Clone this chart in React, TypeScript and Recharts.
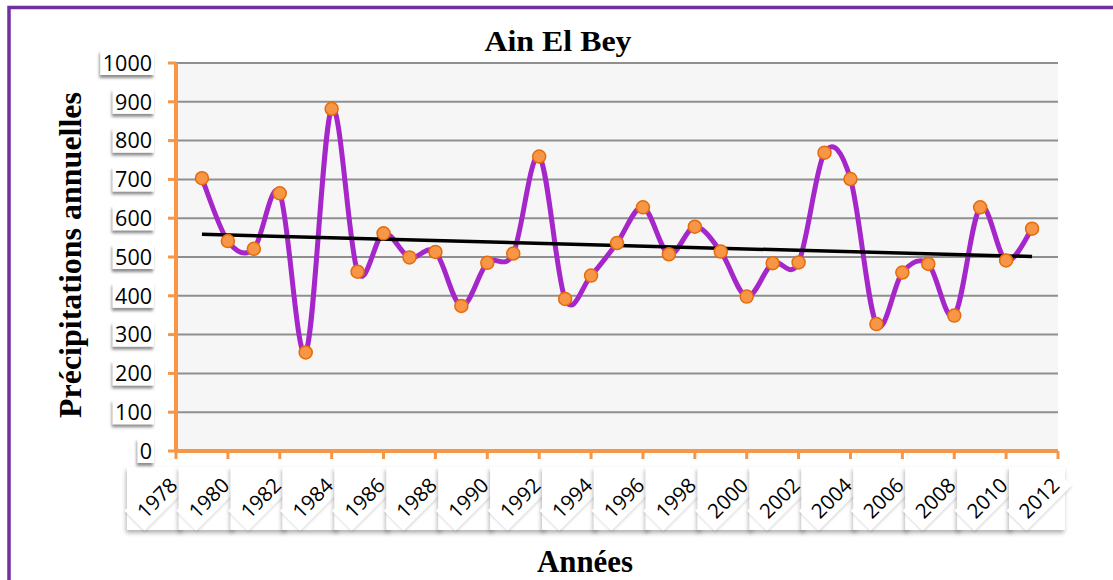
import React from 'react';
import { LineChart, Line, XAxis, YAxis, CartesianGrid } from 'recharts';

const years = [
  1979, 1980, 1981, 1982, 1983, 1984, 1985, 1986, 1987, 1988, 1989,
  1990, 1991, 1992, 1993, 1994, 1995, 1996, 1997, 1998, 1999, 2000,
  2001, 2002, 2003, 2004, 2005, 2006, 2007, 2008, 2009, 2010, 2011,
];
const precipitation = [
  703, 541, 521, 664, 254, 882, 462, 561, 499, 513, 374,
  485, 509, 759, 392, 452, 536, 628, 507, 578, 514, 398,
  484, 486, 769, 701, 327, 460, 482, 349, 628, 491, 573,
];
const xTicks = [
  1978, 1980, 1982, 1984, 1986, 1988, 1990, 1992, 1994, 1996, 1998,
  2000, 2002, 2004, 2006, 2008, 2010, 2012,
];
const yTicks = [0, 100, 200, 300, 400, 500, 600, 700, 800, 900, 1000];
const chartTitle = 'Ain El Bey';
const yTitle = 'Précipitations annuelles';
const xTitle = 'Années';

const data = years.map((year, i) => ({ year, value: precipitation[i] }));

// least-squares linear trend line
const n = years.length;
const meanX = years.reduce((a, b) => a + b, 0) / n;
const meanY = precipitation.reduce((a, b) => a + b, 0) / n;
let sxy = 0;
let sxx = 0;
years.forEach((yr, i) => {
  sxy += (yr - meanX) * (precipitation[i] - meanY);
  sxx += (yr - meanX) * (yr - meanX);
});
const slope = sxy / sxx;
const intercept = meanY - slope * meanX;
const trendData = [years[0], years[n - 1]].map((year) => ({ year, trend: intercept + slope * year }));

// Excel-like smoothed line (Catmull-Rom style Bezier)
function excelCurve(context: any) {
  let pts: number[][] = [];
  return {
    areaStart() {},
    areaEnd() {},
    lineStart() {
      pts = [];
    },
    point(x: number, y: number) {
      pts.push([+x, +y]);
    },
    lineEnd() {
      const m = pts.length;
      if (!m) return;
      context.moveTo(pts[0][0], pts[0][1]);
      for (let i = 0; i < m - 1; i++) {
        const p0 = pts[Math.max(i - 1, 0)];
        const p1 = pts[i];
        const p2 = pts[i + 1];
        const p3 = pts[Math.min(i + 2, m - 1)];
        context.bezierCurveTo(
          p1[0] + (p2[0] - p0[0]) / 6,
          p1[1] + (p2[1] - p0[1]) / 6,
          p2[0] - (p3[0] - p1[0]) / 6,
          p2[1] - (p3[1] - p1[1]) / 6,
          p2[0],
          p2[1]
        );
      }
    },
  };
}

const ORANGE = '#F79646';
const LABEL_FONT = '"Open Sans", Lato, sans-serif';
const TITLE_FONT = '"Liberation Serif", "Times New Roman", serif';

function YTick(props: any) {
  const { x, y, payload } = props;
  const label = String(payload.value);
  const w = label.length * 12.4 + 4;
  return (
    <g>
      <rect x={x - w + 2} y={y - 13} width={w} height={25} fill="#fff" filter="url(#lblShadow)" />
      <text x={x} y={y} dy="0.36em" textAnchor="end" fontFamily={LABEL_FONT} fontSize={21.5} fill="#000">
        {label}
      </text>
    </g>
  );
}

function XTick(props: any) {
  const { x, y, payload } = props;
  const top = y + 8;
  const cx = x - 19;
  const cy = y + 39;
  return (
    <g>
      <rect x={x - 49} y={top} width={56} height={63} fill="#fff" filter="url(#boxShadow)" />
      <g transform={`translate(${cx},${cy}) rotate(-45)`}>
        <rect x={-32} y={-14} width={64} height={28} fill="#fff" filter="url(#diamondShadow)" />
        <text x={0} y={0} dy="0.36em" textAnchor="middle" fontFamily={LABEL_FONT} fontSize={20.5} fill="#000">
          {payload.value}
        </text>
      </g>
    </g>
  );
}

export default function App() {
  return (
    <div
      style={{
        position: 'absolute',
        left: 0,
        top: 0,
        width: 1113,
        height: 580,
        background: '#fff',
        overflow: 'hidden',
      }}
    >
      <svg width={1113} height={580} style={{ position: 'absolute', left: 0, top: 0 }}>
        <defs>
          <filter id="lblShadow" x="-30%" y="-30%" width="160%" height="180%">
            <feDropShadow dx={-1} dy={3} stdDeviation={1.6} floodColor="#000" floodOpacity={0.45} />
          </filter>
          <filter id="boxShadow" x="-20%" y="-20%" width="140%" height="140%">
            <feDropShadow dx={-1} dy={3} stdDeviation={2} floodColor="#000" floodOpacity={0.3} />
          </filter>
          <filter id="diamondShadow" x="-20%" y="-40%" width="140%" height="180%">
            <feDropShadow dx={-1} dy={1.5} stdDeviation={1.2} floodColor="#000" floodOpacity={0.15} />
          </filter>
        </defs>
        <rect x={9} y={7.5} width={1200} height={700} fill="none" stroke="#7030A0" strokeWidth={3.5} />
      </svg>
      <div style={{ position: 'absolute', left: 0, top: 0 }}>
        <LineChart width={1113} height={580} margin={{ top: 63, right: 55, bottom: 49, left: 116 }}>
          <CartesianGrid
            vertical={false}
            stroke="#8f8f8f"
            strokeWidth={2}
            fill="#f6f6f6"
            fillOpacity={1}
          />
          <XAxis
            type="number"
            dataKey="year"
            domain={[1978, 2012]}
            ticks={xTicks}
            interval={0}
            height={80}
            tickSize={8}
            tickMargin={0}
            axisLine={{ stroke: ORANGE, strokeWidth: 4 }}
            tickLine={{ stroke: ORANGE, strokeWidth: 3 }}
            tick={<XTick />}
            allowDecimals={false}
          />
          <YAxis
            type="number"
            domain={[0, 1000]}
            ticks={yTicks}
            interval={0}
            width={60}
            tickSize={8}
            tickMargin={16}
            axisLine={{ stroke: ORANGE, strokeWidth: 4 }}
            tickLine={{ stroke: ORANGE, strokeWidth: 3 }}
            tick={<YTick />}
          />
          <Line
            data={data}
            dataKey="value"
            type={excelCurve as any}
            stroke="#A526C9"
            strokeWidth={5}
            dot={{ r: 6.5, fill: ORANGE, stroke: '#E46C0A', strokeWidth: 1.5 }}
            activeDot={false}
            isAnimationActive={false}
          />
          <Line
            data={trendData}
            dataKey="trend"
            type="linear"
            stroke="#000"
            strokeWidth={3.5}
            dot={false}
            activeDot={false}
            isAnimationActive={false}
          />
        </LineChart>
      </div>
      <svg
        width={1113}
        height={580}
        style={{ position: 'absolute', left: 0, top: 0, pointerEvents: 'none' }}
      >
        <text
          x={558}
          y={51}
          textAnchor="middle"
          fontFamily={TITLE_FONT}
          fontWeight="bold"
          fontSize={30}
          textLength={147}
          lengthAdjust="spacingAndGlyphs"
          fill="#000"
        >
          {chartTitle}
        </text>
        <text
          transform="translate(81,255) rotate(-90)"
          x={0}
          y={0}
          textAnchor="middle"
          fontFamily={TITLE_FONT}
          fontWeight="bold"
          fontSize={32}
          textLength={326}
          lengthAdjust="spacingAndGlyphs"
          fill="#000"
        >
          {yTitle}
        </text>
        <text
          x={585}
          y={572}
          textAnchor="middle"
          fontFamily={TITLE_FONT}
          fontWeight="bold"
          fontSize={31}
          textLength={96}
          lengthAdjust="spacingAndGlyphs"
          fill="#000"
        >
          {xTitle}
        </text>
      </svg>
    </div>
  );
}
